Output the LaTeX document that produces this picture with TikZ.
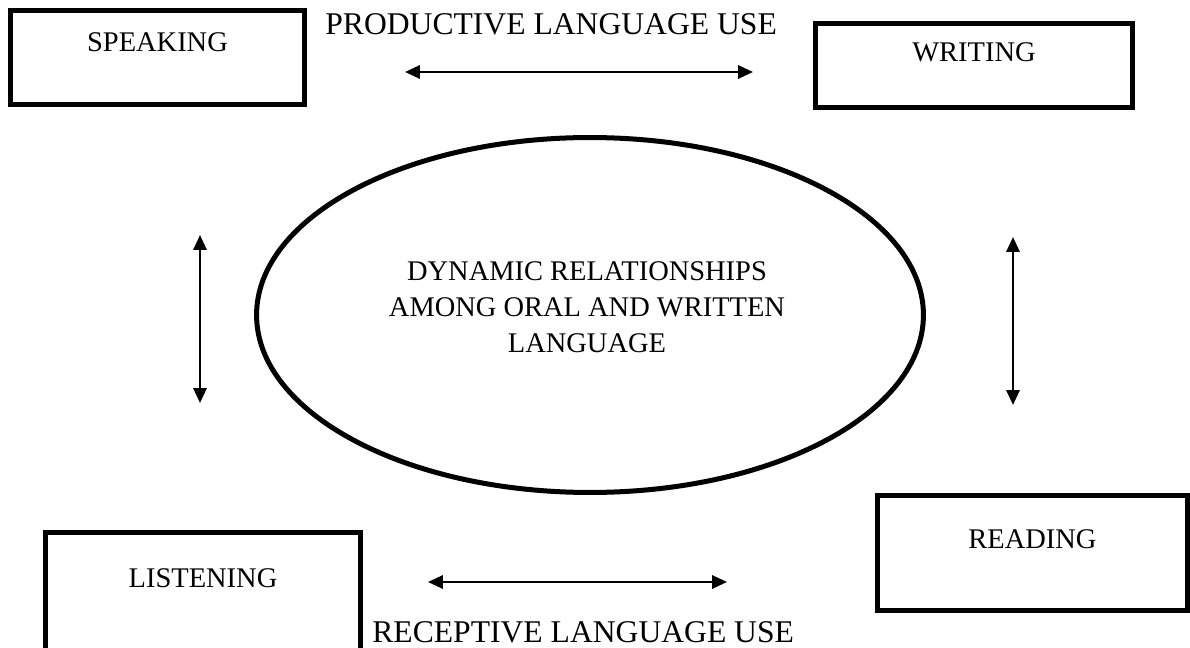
\documentclass[tikz,border=0pt]{standalone}
\usepackage{fontspec}
\setmainfont{Liberation Serif}
\usetikzlibrary{shapes.geometric,arrows.meta}

\tikzset{
  skillbox/.style={draw,line width=2.85pt,inner sep=0pt,rectangle,font=\fontsize{16.2}{20.5}\selectfont},
  uselabel/.style={anchor=base west,inner sep=0pt,font=\fontsize{18}{21}\selectfont},
  usearrow/.style={line width=1.5pt,<->}
}

\begin{document}
\begin{tikzpicture}[x=0.02cm,y=-0.02cm,>={Triangle[length=8.5pt,width=7.5pt]}]
      \useasboundingbox (0,0) rectangle (1190,648);

      % the four skills
      \node[skillbox,minimum width=5.88cm,text height=0.83cm,text depth=1.05cm] (speak) at (157.5,57.5) {SPEAKING};
      \node[skillbox,minimum width=6.34cm,text height=0.77cm,text depth=0.92cm] (write) at (974,65.75) {WRITING};
      \node[skillbox,minimum width=6.3cm,text height=1.09cm,text depth=1.5cm] (listen) at (203,597.25) {LISTENING};
      \node[skillbox,minimum width=6.2cm,text height=1.05cm,text depth=1.25cm] (read) at (1032.5,553) {READING};

      % centre
      \node[ellipse,draw,line width=2.85pt,inner sep=0pt,minimum width=13.34cm,minimum height=7.1cm] (dyn) at (590,315) {};
      \node[align=center,inner sep=0pt,font=\fontsize{16.2}{20.5}\selectfont] (dyntext) at (587,307) {DYNAMIC RELATIONSHIPS\\AMONG ORAL AND WRITTEN\\LANGUAGE};

      \node[uselabel] (prod) at (325,35) {PRODUCTIVE LANGUAGE USE};
      \node[uselabel] (recep) at (372,642) {RECEPTIVE LANGUAGE USE};

      \coordinate (prodL) at (405,72);
      \coordinate (prodR) at (753,72);
      \coordinate (recL) at (428,582);
      \coordinate (recR) at (727,582);
      \coordinate (leftT) at (200,235);
      \coordinate (leftB) at (200,403);
      \coordinate (rightT) at (1013,237);
      \coordinate (rightB) at (1013,405);

      \draw[usearrow] (prodL) -- (prodR);
      \draw[usearrow] (recL) -- (recR);
      \draw[usearrow] (leftT) -- (leftB);
      \draw[usearrow] (rightT) -- (rightB);
\end{tikzpicture}
\end{document}
